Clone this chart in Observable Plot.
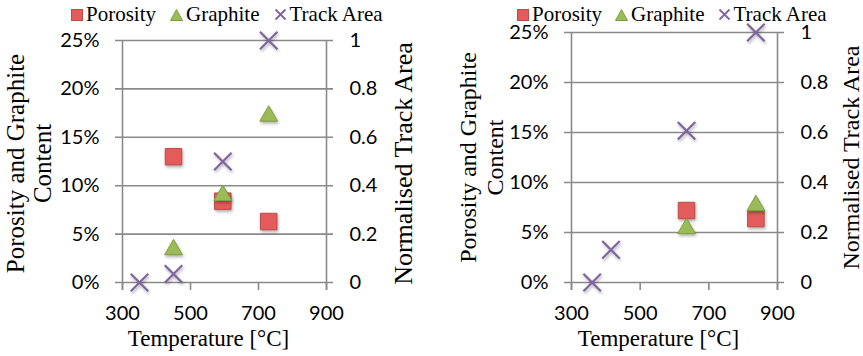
<!DOCTYPE html>
<html><head><meta charset="utf-8">
<script src="https://cdn.jsdelivr.net/npm/d3@7"></script>
<script src="https://cdn.jsdelivr.net/npm/@observablehq/plot@0.6"></script>
<style>
body{margin:0;background:#fff;}
#wrap{position:relative;width:863px;height:356px;overflow:hidden;}
.panel{position:absolute;top:0;}
.legend{position:absolute;top:4px;display:flex;align-items:center;font-family:"Liberation Serif","Times New Roman",serif;font-size:21px;line-height:21px;white-space:nowrap;color:#000;z-index:2;}
.legend .item{display:flex;align-items:center;}
.legend svg{display:block;margin-right:3px;}
g[aria-label="dot"] path{filter:drop-shadow(1.5px 2px 1.5px rgba(0,0,0,0.3));}
</style>
</head><body>
<div id="wrap"></div>
<script>
// ---- shared ticks / labels ----
const tempTicks = [300, 500, 700, 900];
const pctTicks = [0, 0.05, 0.10, 0.15, 0.20, 0.25];
const areaTicks = [0, 0.2, 0.4, 0.6, 0.8, 1];
const seriesNames = ["Porosity", "Graphite", "Track Area"];
const xTitle = "Temperature [°C]";
const yTitleLeft = "Porosity and Graphite\nContent";
const yTitleRight = "Normalised Track Area";

// ---- panel A (left) ----
const aPorosityTemp = [450, 595, 730];
const aPorosity = [0.130, 0.084, 0.063];
const aGraphiteTemp = [450, 595, 730];
const aGraphite = [0.034, 0.090, 0.172];
const aTrackTemp = [350, 450, 595, 730];
const aTrack = [0, 0.035, 0.50, 1.0];

// ---- panel B (right) ----
const bPorosityTemp = [635, 837];
const bPorosity = [0.072, 0.064];
const bGraphiteTemp = [635, 837];
const bGraphite = [0.054, 0.077];
const bTrackTemp = [360, 415, 635, 837];
const bTrack = [0, 0.131, 0.607, 1.0];

const colors = {
  poroFill: "#e35b5b", poroStroke: "#be4b48",
  graFill: "#9bbb59", graStroke: "#7f9f3f",
  track: "#8064a2", grid: "#8a8a8a"
};
const serif = "Liberation Serif, Times New Roman, serif";

const pctMax = 0.25; // right axis 0..1 shares the 0..25% range
const zip = (xs, ys) => xs.map((x, i) => ({x, y: ys[i]}));

function makePanel(cfg) {
  const poro = zip(cfg.poroT, cfg.poro);
  const gra = zip(cfg.graT, cfg.gra);
  const track = zip(cfg.trackT, cfg.track).map(d => ({x: d.x, y: d.y * pctMax}));
  return Plot.plot({
    width: cfg.width, height: 356,
    marginLeft: cfg.marginLeft, marginRight: cfg.marginRight,
    marginTop: cfg.marginTop, marginBottom: 74,
    style: {fontFamily: "Lato", fontSize: "20px", background: "transparent", overflow: "visible", color: "#000"},
    x: {domain: [300, 900]},
    y: {domain: [0, pctMax]},
    marks: [
      Plot.ruleY(pctTicks, {stroke: colors.grid, strokeWidth: 1.6, insetLeft: -7, insetRight: -7}),
      Plot.ruleX([300, 900], {stroke: colors.grid, strokeWidth: 1.6, insetBottom: -8}),
      Plot.axisX(tempTicks, {anchor: "bottom", tickSize: 8, tickPadding: 15, stroke: colors.grid, strokeWidth: 1.6, fill: "#000", label: null, fontSize: 20, fontFamily: "Lato"}),
      Plot.axisY(pctTicks, {anchor: "left", tickSize: 0, tickPadding: 23, tickFormat: d3.format(".0%"), label: null, fill: "#000", fontSize: 20, fontFamily: "Lato"}),
      Plot.axisY(areaTicks.map(a => a * pctMax), {anchor: "right", tickSize: 0, tickPadding: 23, tickFormat: d => String(Math.round(d / pctMax * 10) / 10), label: null, fill: "#000", fontSize: 20, fontFamily: "Lato"}),
      Plot.dot(poro, {x: "x", y: "y", symbol: "square", r: 9.3, fill: colors.poroFill, stroke: colors.poroStroke, strokeWidth: 1}),
      Plot.dot(gra, {x: "x", y: "y", symbol: "triangle", r: 6.6, fill: colors.graFill, stroke: colors.graStroke, strokeWidth: 1}),
      Plot.dot(track, {x: "x", y: "y", symbol: "times", r: 8, stroke: colors.track, strokeWidth: 2.2}),
      Plot.text([xTitle], {text: d => d, frameAnchor: "bottom", textAnchor: "middle", lineAnchor: "middle", dy: 56, dx: -16, fontFamily: serif, fontSize: 23, fill: "#000"}),
      Plot.text([yTitleLeft], {text: d => d, frameAnchor: "left", rotate: -90, textAnchor: "middle", lineAnchor: "middle", dx: cfg.leftTitleDx, dy: cfg.leftTitleDy, fontFamily: serif, fontSize: cfg.leftTitleSize, lineHeight: 27 / cfg.leftTitleSize, fill: "#000"}),
      Plot.text([yTitleRight], {text: d => d, frameAnchor: "right", rotate: -90, textAnchor: "middle", lineAnchor: "middle", dx: cfg.rightTitleDx, dy: cfg.rightTitleDy, fontFamily: serif, fontSize: cfg.rightTitleSize, fill: "#000"})
    ]
  });
}

const swatch = {
  "Porosity": `<svg width="12" height="12"><rect x="0.5" y="0.5" width="11" height="11" fill="${colors.poroFill}" stroke="${colors.poroStroke}"/></svg>`,
  "Graphite": `<svg width="13" height="12"><polygon points="6.5,0.5 12.5,11.5 0.5,11.5" fill="${colors.graFill}" stroke="${colors.graStroke}"/></svg>`,
  "Track Area": `<svg width="13" height="13"><path d="M1.5,1.5L11.5,11.5M11.5,1.5L1.5,11.5" stroke="${colors.track}" stroke-width="1.8"/></svg>`
};

function makeLegend(left, gap) {
  const div = document.createElement("div");
  div.className = "legend";
  div.style.left = left + "px";
  seriesNames.forEach((name, i) => {
    const it = document.createElement("div");
    it.className = "item";
    if (i > 0) it.style.marginLeft = gap + "px";
    it.innerHTML = swatch[name] + `<span>${name}</span>`;
    div.appendChild(it);
  });
  return div;
}

const wrap = document.getElementById("wrap");

const pA = document.createElement("div");
pA.className = "panel"; pA.style.left = "0px";
pA.appendChild(makePanel({
  width: 430, marginLeft: 122, marginRight: 104, marginTop: 40,
  poroT: aPorosityTemp, poro: aPorosity, graT: aGraphiteTemp, gra: aGraphite, trackT: aTrackTemp, track: aTrack,
  leftTitleDx: -93.5, leftTitleDy: 2, leftTitleSize: 25,
  rightTitleDx: 77, rightTitleDy: 2, rightTitleSize: 26
}));
wrap.appendChild(pA);
wrap.appendChild(makeLegend(71, 14));

const pB = document.createElement("div");
pB.className = "panel"; pB.style.left = "430px";
pB.appendChild(makePanel({
  width: 433, marginLeft: 141, marginRight: 86, marginTop: 32,
  poroT: bPorosityTemp, poro: bPorosity, graT: bGraphiteTemp, gra: bGraphite, trackT: bTrackTemp, track: bTrack,
  leftTitleDx: -91, leftTitleDy: 0, leftTitleSize: 24,
  rightTitleDx: 74, rightTitleDy: 0, rightTitleSize: 24
}));
wrap.appendChild(pB);
wrap.appendChild(makeLegend(517, 13));
</script>
</body></html>
